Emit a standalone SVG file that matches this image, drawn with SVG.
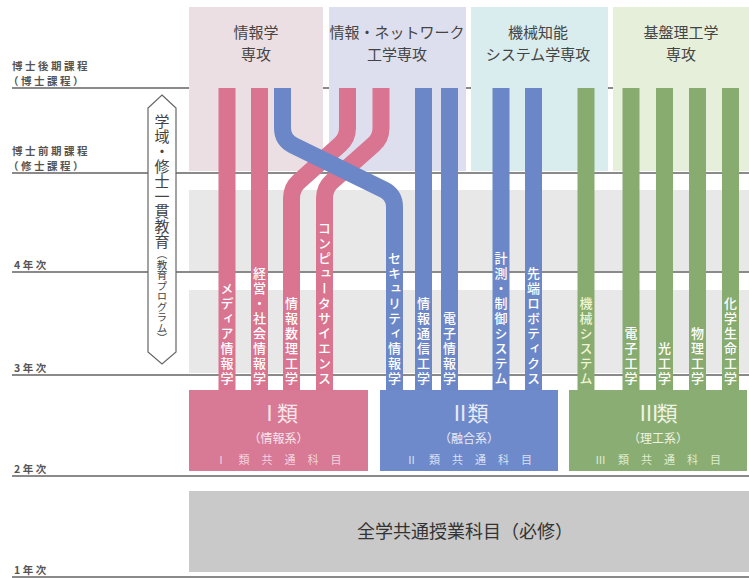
<svg xmlns="http://www.w3.org/2000/svg" width="749" height="578" viewBox="0 0 749 578">
<style>
.lbl{font-family:"Noto Sans CJK JP","Noto Sans",sans-serif;font-size:10.5px;fill:#555;letter-spacing:2.5px;font-weight:bold}
.hd{font-family:"Noto Sans CJK JP","Noto Sans",sans-serif;font-size:15px;fill:#444;text-anchor:middle}
.line{stroke:#8a8a8a;stroke-width:2}
.band{fill:#e8e8e8}
.vt{font-family:"Noto Sans CJK JP","Noto Sans",sans-serif;font-size:13px;fill:#fff;writing-mode:vertical-rl;text-anchor:end;letter-spacing:2px;font-weight:500}
.cat1{font-family:"Noto Sans CJK JP","Noto Sans",sans-serif;font-size:21px;text-anchor:middle;letter-spacing:-3px}
.cat2{font-family:"Noto Sans CJK JP","Noto Sans",sans-serif;font-size:12px;text-anchor:middle}
.cat3{font-family:"Noto Sans CJK JP","Noto Sans",sans-serif;font-size:11px;text-anchor:middle;letter-spacing:12px}
.pk{stroke:#d97590}
.bl{stroke:#6c87c8}
.gr{stroke:#88ab70}
.bar{stroke-width:17;fill:none}
</style>
<rect width="749" height="578" fill="#fff"/>
<g id="grid">
<rect class="band" x="189" y="190" width="560" height="82"/>
<rect class="band" x="189" y="290" width="560" height="83"/>
<line class="line" x1="12" y1="88" x2="749" y2="88"/>
<line class="line" x1="12" y1="173" x2="749" y2="173"/>
<line class="line" x1="12" y1="272" x2="749" y2="272"/>
<line class="line" x1="12" y1="375" x2="749" y2="375"/>
<line class="line" x1="12" y1="476" x2="749" y2="476"/>
<line class="line" x1="12" y1="577" x2="749" y2="577"/>
<text class="lbl" x="12" y="70">博士後期課程</text>
<text class="lbl" x="8" y="85">（博士課程）</text>
<text class="lbl" x="12" y="155">博士前期課程</text>
<text class="lbl" x="8" y="170">（修士課程）</text>
<text class="lbl" x="14" y="269">4年次</text>
<text class="lbl" x="14" y="372">3年次</text>
<text class="lbl" x="14" y="473">2年次</text>
<text class="lbl" x="14" y="574">1年次</text>
</g>
<g id="major-joho">
<rect x="189" y="7" width="134" height="164" fill="#ecdfe4"/>
<text class="hd" x="256" y="38">情報学</text>
<text class="hd" x="256" y="60">専攻</text>
</g>
<g id="major-network">
<rect x="329" y="7" width="137" height="164" fill="#dedfee"/>
<text class="hd" x="397" y="38">情報・ネットワーク</text>
<text class="hd" x="397" y="60">工学専攻</text>
</g>
<g id="major-kikai">
<rect x="471" y="7" width="137" height="164" fill="#d9ecee"/>
<text class="hd" x="538" y="38">機械知能</text>
<text class="hd" x="538" y="60">システム学専攻</text>
</g>
<g id="major-kiban">
<rect x="613" y="7" width="136" height="164" fill="#e6efd9"/>
<text class="hd" x="681" y="38">基盤理工学</text>
<text class="hd" x="681" y="60">専攻</text>
</g>
<g id="program-arrow">
<polygon points="162,95 176,108 176,352 162,364 148,352 148,108" fill="#fff" stroke="#666" stroke-width="1.2"/>
<text x="162" y="114" style="font-family:'Noto Sans CJK JP',sans-serif;writing-mode:vertical-rl;fill:#444"><tspan style="font-size:15px">学域・修士一貫教育</tspan><tspan style="font-size:10.5px">（教育プログラム）</tspan></text>
</g>
<g id="connectors">
<path class="bar pk" d="M227,88 V391"/>
<path class="bar pk" d="M259.5,88 V391"/>
<path class="bar pk" d="M347.5,88 V128 Q347.5,138 340,144.7 L299,181.3 Q291.5,188 291.5,198 V391"/>
<path class="bar pk" d="M381,88 V128 Q381,138 373.5,144.7 L332,181.3 Q324.5,188 324.5,198 V391"/>
<path class="bar bl" d="M282.5,88 V128 Q282.5,140 293.3,145.3 L383.7,189.7 Q394.5,195 394.5,207 V391"/>
<path class="bar bl" d="M423.5,88 V391"/>
<path class="bar bl" d="M449.5,88 V391"/>
<path class="bar bl" d="M501,88 V391"/>
<path class="bar bl" d="M533.5,88 V391"/>
<path class="bar gr" d="M586,88 V391"/>
<path class="bar gr" d="M631,88 V391"/>
<path class="bar gr" d="M664.5,88 V391"/>
<path class="bar gr" d="M697.5,88 V391"/>
<path class="bar gr" d="M730.5,88 V391"/>
</g>
<g id="course-labels">
<text class="vt" x="227" y="387">メディア情報学</text>
<text class="vt" x="259.5" y="387">経営・社会情報学</text>
<text class="vt" x="291.5" y="387">情報数理工学</text>
<text class="vt" x="324.5" y="387">コンピュータサイエンス</text>
<text class="vt" x="394.5" y="387">セキュリティ情報学</text>
<text class="vt" x="423.5" y="387">情報通信工学</text>
<text class="vt" x="449.5" y="387">電子情報学</text>
<text class="vt" x="501" y="387">計測・制御システム</text>
<text class="vt" x="533.5" y="387">先端ロボティクス</text>
<text class="vt" x="586" y="387" style="fill:#eef5d0">機械システム</text>
<text class="vt" x="631" y="387">電子工学</text>
<text class="vt" x="664.5" y="387">光工学</text>
<text class="vt" x="697.5" y="387">物理工学</text>
<text class="vt" x="730.5" y="387">化学生命工学</text>
</g>
<g id="category-1">
<rect x="189" y="390" width="179" height="81" fill="#d87a95"/>
<text class="cat1" x="277" y="421" fill="#f8e6ec">Ⅰ類</text>
<text class="cat2" x="278.5" y="443" fill="#f8e6ec">（情報系）</text>
<text class="cat3" x="284.5" y="464" fill="#f3d3de">Ⅰ類共通科目</text>
</g>
<g id="category-2">
<rect x="380" y="390" width="178" height="81" fill="#6f8acb"/>
<text class="cat1" x="467.5" y="421" fill="#e8ecf8">Ⅱ類</text>
<text class="cat2" x="469" y="443" fill="#e8ecf8">（融合系）</text>
<text class="cat3" x="475" y="464" fill="#d9e0f4">Ⅱ類共通科目</text>
</g>
<g id="category-3">
<rect x="569" y="390" width="178" height="81" fill="#8aad73"/>
<text class="cat1" x="656.5" y="421" fill="#eef4e4">Ⅲ類</text>
<text class="cat2" x="658" y="443" fill="#eef4e4">（理工系）</text>
<text class="cat3" x="664" y="464" fill="#dfeccf">Ⅲ類共通科目</text>
</g>
<g id="common">
<rect x="189" y="491" width="560" height="81" fill="#c9c9c9"/>
<text x="465" y="538" style="font-family:'Noto Sans CJK JP',sans-serif;font-size:18px;fill:#333;text-anchor:middle">全学共通授業科目（必修）</text>
</g>
</svg>
